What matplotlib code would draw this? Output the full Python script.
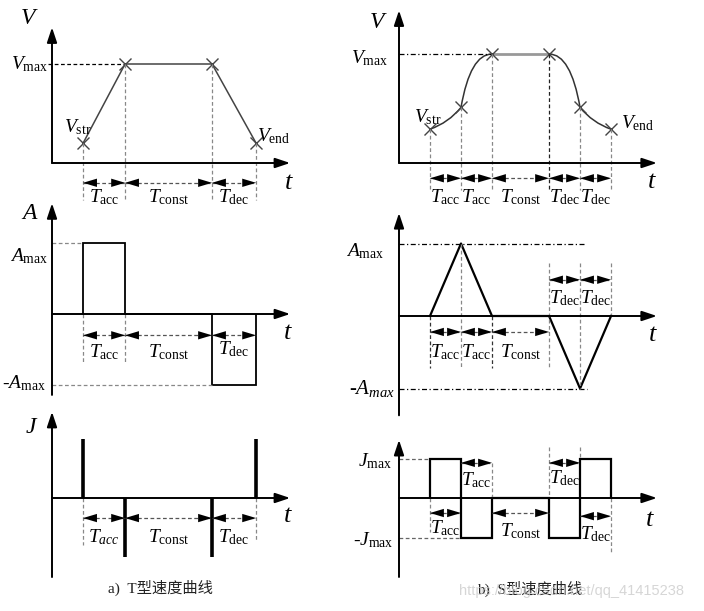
import numpy as np
import matplotlib
matplotlib.use('Agg')
import matplotlib.pyplot as plt
from matplotlib.path import Path
from matplotlib.patches import PathPatch

plt.rcParams['font.family'] = ['Liberation Serif', 'Noto Sans CJK SC']
plt.rcParams['mathtext.fontset'] = 'custom'
plt.rcParams['mathtext.rm'] = 'Liberation Serif'
plt.rcParams['mathtext.it'] = 'Liberation Serif:italic'

# ---- data (time in units of one T_acc phase, values normalised to max) ----
# T-type profile
t_T = [0.74, 1.74, 3.81, 4.86]       # start, end acc, end const, end dec
v_T = [0.2, 1.0, 1.0, 0.2]
a_T = [1, 0, -1]                     # accel per segment
j_T = [1, -1, -1, 1]                 # jerk impulses at the breakpoints
seg_T = ['acc', 'const', 'dec']

# S-type profile
t_S = [1.0, 2.0, 3.0, 4.84, 5.84, 6.84]
v_S = [0.31, 0.51, 1.0, 1.0, 0.51, 0.31]
a_S = [0, 1, 0, 0, -1, 0]
j_S = [1, -1, 0, -1, 1]
seg_S = ['acc', 'acc', 'const', 'dec', 'dec']
# bezier control points of the curved velocity pieces
ctrl_S = [(1.6, 0.37), (2.3, 1.0), (5.54, 1.0), (6.24, 0.37)]

W, H = 704, 611
fig = plt.figure(figsize=(W / 100, H / 100), dpi=100)


def make_panel(box, ox, oy, sx, sy):
    # box in pixels (left, top, right, bottom), origin of the plot axes in px
    l, t, r, b = box
    ax = fig.add_axes([l / W, 1 - b / H, (r - l) / W, (b - t) / H])
    ax.set_xlim((l - ox) / sx, (r - ox) / sx)
    ax.set_ylim((oy - b) / sy, (oy - t) / sy)
    ax.axis('off')
    return ax


def arrow(ax, p0, p1, lw=1.4):
    ax.annotate('', xy=p1, xytext=p0,
                arrowprops=dict(arrowstyle='-|>,head_length=0.9,head_width=0.3',
                                mutation_scale=10, lw=lw, color='k',
                                shrinkA=0, shrinkB=0))


def dim_arrow(ax, x0, x1, y):
    ax.plot([x0, x1], [y, y], ls=(0, (3, 2)), color='#555', lw=0.9)
    xm = (x0 + x1) / 2
    for xe in (x0, x1):
        ax.annotate('', xy=(xe, y), xytext=(xm, y),
                    arrowprops=dict(arrowstyle='-|>,head_length=1.0,head_width=0.3',
                                    mutation_scale=10, lw=0, color='k',
                                    shrinkA=0, shrinkB=0))


def vdash(ax, x, y0, y1, c='#888'):
    ax.plot([x, x], [y0, y1], ls=(0, (3, 2)), color=c, lw=0.9)


def tlabel(ax, x, y, sub, it=False, fs=14):
    s = r'$T_{%s}$' % sub if it else r'$T_{\mathrm{%s}}$' % sub
    ax.text(x, y, s, fontsize=fs, ha='center', va='center')


def mid(a, b):
    return (a + b) / 2


# =================== T-type V ===================
ax = make_panel((0, 0, 352, 210), 52, 163, 42, 99)
arrow(ax, (0, 0), (5.67, 0))
arrow(ax, (0, 0), (0, 1.37))
ax.plot([-0.1, t_T[1]], [1, 1], ls=(0, (3, 2)), color='k', lw=0.9)
ax.plot(t_T, v_T, color='#444', lw=1.1)
ax.plot(t_T, v_T, ls='none', marker='x', ms=9, mew=1, color='#444')
for x, v in zip(t_T, v_T):
    vdash(ax, x, v, -0.37)
for i, s in enumerate(seg_T):
    dim_arrow(ax, t_T[i], t_T[i + 1], -0.2)
    tlabel(ax, mid(t_T[i], t_T[i + 1]), -0.35, s)
ax.text(-0.55, 1.46, r'$V$', fontsize=17, ha='center', va='center')
ax.text(-0.1, 1.0, r'$V_{\mathrm{max}}$', fontsize=14, ha='right', va='center')
ax.text(0.62, 0.36, r'$V_{\mathrm{str}}$', fontsize=14, ha='center', va='center')
ax.text(5.28, 0.27, r'$V_{\mathrm{end}}$', fontsize=14, ha='center', va='center')
ax.text(5.64, -0.2, r'$t$', fontsize=19, ha='center', va='center')

# =================== T-type A ===================
ax = make_panel((0, 195, 352, 410), 52, 314, 42, 71)
arrow(ax, (0, 0), (5.67, 0))
arrow(ax, (0, -1.14), (0, 1.56))
ax.stairs(a_T, t_T, baseline=0, color='k', lw=1.3)
ax.plot([0, t_T[0]], [1, 1], ls=(0, (3, 2)), color='#888', lw=0.9)
ax.plot([0, t_T[2]], [-1, -1], ls=(0, (3, 2)), color='#888', lw=0.9)
vdash(ax, t_T[0], 0, -0.68)
vdash(ax, t_T[1], 0, -0.68)
for i, s in enumerate(seg_T):
    dim_arrow(ax, t_T[i], t_T[i + 1], -0.3)
    tlabel(ax, mid(t_T[i], t_T[i + 1]), -0.54 if i < 2 else -0.5, s)
ax.text(-0.52, 1.41, r'$A$', fontsize=17, ha='center', va='center')
ax.text(-0.1, 0.82, r'$A_{\mathrm{max}}$', fontsize=14, ha='right', va='center')
ax.text(-0.15, -0.97, r'-$A_{\mathrm{max}}$', fontsize=14, ha='right', va='center')
ax.text(5.62, -0.27, r'$t$', fontsize=19, ha='center', va='center')

# =================== T-type J ===================
ax = make_panel((0, 400, 352, 611), 52, 498, 42, 59)
arrow(ax, (0, 0), (5.67, 0))
arrow(ax, (0, -1.34), (0, 1.46))
ax.vlines(t_T, 0, j_T, color='k', lw=2.6)
vdash(ax, t_T[0], 0, -0.8)
vdash(ax, t_T[3], 0, -0.73)
for i, s in enumerate(seg_T):
    dim_arrow(ax, t_T[i], t_T[i + 1], -0.34)
    tlabel(ax, mid(t_T[i], t_T[i + 1]), -0.66, s, it=(i == 0))
ax.text(-0.48, 1.19, r'$J$', fontsize=17, ha='center', va='center')
ax.text(5.62, -0.3, r'$t$', fontsize=19, ha='center', va='center')
ax.text(2.57, -1.53, 'a)  T型速度曲线', fontsize=11, ha='center', va='center', color='#222')

# =================== S-type V ===================
ax = make_panel((352, 0, 704, 210), 399, 163, 31, 109)
arrow(ax, (0, 0), (8.32, 0))
arrow(ax, (0, 0), (0, 1.40))
ax.plot([0, t_S[2]], [1, 1], ls=(0, (4, 2, 1, 2)), color='k', lw=0.9)
verts = [(t_S[0], v_S[0]), ctrl_S[0], (t_S[1], v_S[1]), ctrl_S[1], (t_S[2], v_S[2])]
codes = [Path.MOVETO, Path.CURVE3, Path.CURVE3, Path.CURVE3, Path.CURVE3]
ax.add_patch(PathPatch(Path(verts, codes), fc='none', ec='#333', lw=1.1))
verts = [(t_S[3], v_S[3]), ctrl_S[2], (t_S[4], v_S[4]), ctrl_S[3], (t_S[5], v_S[5])]
ax.add_patch(PathPatch(Path(verts, codes), fc='none', ec='#333', lw=1.1))
ax.plot(t_S[2:4], v_S[2:4], color='#999', lw=2)
ax.plot(t_S, v_S, ls='none', marker='x', ms=9, mew=1, color='#444')
for i, (x, v) in enumerate(zip(t_S, v_S)):
    vdash(ax, x, v, -0.25, c='#222' if i == 3 else '#888')
for i, s in enumerate(seg_S):
    dim_arrow(ax, t_S[i], t_S[i + 1], -0.14)
    tlabel(ax, mid(t_S[i], t_S[i + 1]), -0.31, s)
ax.text(-0.68, 1.29, r'$V$', fontsize=17, ha='center', va='center')
ax.text(-0.35, 0.96, r'$V_{\mathrm{max}}$', fontsize=14, ha='right', va='center')
ax.text(0.94, 0.42, r'$V_{\mathrm{str}}$', fontsize=14, ha='center', va='center')
ax.text(7.7, 0.37, r'$V_{\mathrm{end}}$', fontsize=14, ha='center', va='center')
ax.text(8.16, -0.17, r'$t$', fontsize=19, ha='center', va='center')

# =================== S-type A ===================
ax = make_panel((352, 195, 704, 410), 399, 316, 31, 72.5)
arrow(ax, (0, 0), (8.32, 0))
arrow(ax, (0, -1.37), (0, 1.42))
ax.plot([0, 6.03], [1, 1], ls=(0, (4, 2, 1, 2)), color='k', lw=0.9)
ax.plot([0, 6.06], [-1, -1], ls=(0, (4, 2, 1, 2)), color='k', lw=0.9)
ax.plot(t_S, a_S, color='k', lw=1.6)
vdash(ax, t_S[0], 0, -0.72, c='#333')
vdash(ax, t_S[1], 1, -0.72)
vdash(ax, t_S[2], 0, -0.72, c='#333')
vdash(ax, t_S[3], 0.73, -0.72)
vdash(ax, t_S[4], 0.73, -1)
vdash(ax, t_S[5], 0.73, 0)
for i, s in enumerate(seg_S):
    if s == 'dec':
        dim_arrow(ax, t_S[i], t_S[i + 1], 0.5)
        tlabel(ax, mid(t_S[i], t_S[i + 1]), 0.25, s)
    else:
        dim_arrow(ax, t_S[i], t_S[i + 1], -0.22)
        tlabel(ax, mid(t_S[i], t_S[i + 1]), -0.5, s)
ax.text(-0.48, 0.9, r'$A_{\mathrm{max}}$', fontsize=14, ha='right', va='center')
ax.text(-0.13, -1.0, r'-$A_{max}$', fontsize=15, ha='right', va='center')
ax.text(8.19, -0.26, r'$t$', fontsize=19, ha='center', va='center')

# =================== S-type J ===================
ax = make_panel((352, 400, 704, 611), 399, 498, 31, 39.5)
arrow(ax, (0, 0), (8.32, 0))
arrow(ax, (0, -2.0), (0, 1.47))
ax.stairs(j_S, t_S, baseline=0, color='k', lw=1.6)
ax.plot([0, t_S[0]], [1, 1], ls=(0, (3, 2)), color='#666', lw=0.9)
ax.plot([0, t_S[1]], [-1, -1], ls=(0, (3, 2)), color='#666', lw=0.9)
vdash(ax, t_S[0], 0, -0.86)
vdash(ax, t_S[2], 0, 0.89)
vdash(ax, t_S[3], 1.29, 0)
vdash(ax, t_S[4], 1.29, 1)
vdash(ax, t_S[5], 0, -1.37)
# arrow rows: (y of arrow, y of label) for each segment
arr_y = [-0.38, 0.89, -0.38, 0.89, -0.46]
lab_y = [-0.76, 0.46, -0.84, 0.51, -0.91]
for i, s in enumerate(seg_S):
    dim_arrow(ax, t_S[i], t_S[i + 1], arr_y[i])
    tlabel(ax, mid(t_S[i], t_S[i + 1]), lab_y[i], s)
ax.text(-0.23, 0.94, r'$J_{\mathrm{max}}$', fontsize=14, ha='right', va='center')
ax.text(-0.19, -1.06, r'-$J_{\mathrm{max}}$', fontsize=14, ha='right', va='center')
ax.text(8.1, -0.56, r'$t$', fontsize=19, ha='center', va='center')
ax.text(4.23, -2.3, 'b)  S型速度曲线', fontsize=11, ha='center', va='center', color='#222')
ax.text(5.58, -2.35, 'https://blog.csdn.net/qq_41415238', fontsize=10.5,
        family='Liberation Sans', ha='center', va='center', color='#cccccc', alpha=0.8)

fig.savefig('out.png', dpi=100)
